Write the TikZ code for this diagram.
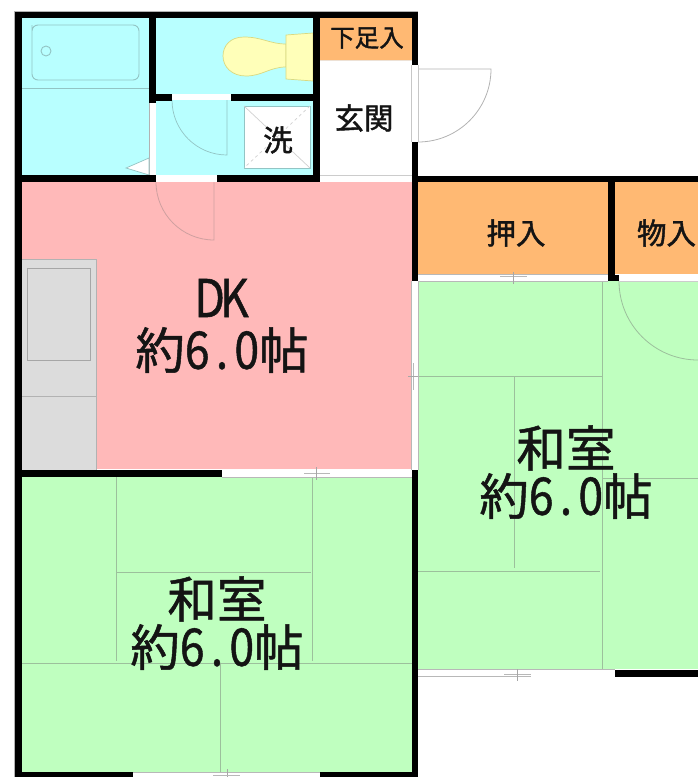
\documentclass[tikz,border=0pt]{standalone}
\usepackage{graphicx}
\usepackage{fontspec}
\newfontfamily\jpfont[FakeBold=1.0]{Noto Sans CJK JP}
\newfontfamily\jpmid[FakeBold=1.5]{Noto Sans CJK JP}
\definecolor{wetc}{HTML}{B8FFFF}
\definecolor{dkc}{HTML}{FFB9B9}
\definecolor{tatami}{HTML}{BFFFBF}
\definecolor{closet}{HTML}{FFB973}
\definecolor{toiletc}{HTML}{FFFFB9}
\definecolor{kitchen}{HTML}{DCDCDC}
\definecolor{wetline}{HTML}{93C4C4}
\definecolor{tatline}{HTML}{9CC09C}
\definecolor{dkline}{HTML}{CFA0A0}
\newcommand{\hw}[1]{\makebox[0.5em][c]{\scalebox{0.9}[1.05]{#1}}}
\newcommand{\jsize}[1]{\fontsize{#1}{#1}\selectfont}
\tikzset{
  wall/.style={fill=black,draw=none},
  room/.style={draw=none},
  wetl/.style={draw=wetline,line width=0.9pt},
  tatl/.style={draw=tatline,line width=1pt},
  sash/.style={draw=black!28,line width=0.9pt},
  big/.style={inner sep=0pt,font=\jpfont\jsize{49.5},text=black!92},
  mid/.style={inner sep=0pt,font=\jpmid\jsize{29.5},text=black!92},
}
\begin{document}
\begin{tikzpicture}[x=1pt,y=-1pt]
\useasboundingbox (0,0) rectangle (698,777);
% room fills
\fill[wetc] (22,18) rectangle (313,175);
\fill[closet] (320,18) rectangle (411.5,60);
\fill[dkc] (22,182) rectangle (411.5,469);
\fill[closet] (418,182) rectangle (698,274);
\fill[tatami] (418,281) rectangle (698,669);
\fill[tatami] (22,477) rectangle (411.5,772);
\fill[kitchen] (22,259) rectangle (96,470);
% kitchen
\draw[black!30,line width=0.8pt] (22,259) -- (96,259) -- (96,470);
\draw[black!35,line width=0.8pt] (27,268) rectangle (90,360);
\draw[black!30,line width=0.8pt] (22,396) -- (96,396);
% bath
\draw[wetl] (32,31) [rounded corners=6pt] -- (32,80) -- (139,80) -- (139,25) -- (32,25) -- cycle;
\draw[wetl] (46,51) circle (5);
\draw[wetl] (22,88) -- (149,88);
% toilet
\draw[draw=toiletc!70!olive,fill=toiletc,line width=0.7pt] (286,44) .. controls (270,44) and (262,37) .. (244,37) .. controls (230,37) and (223,46) .. (223,56) .. controls (223,67) and (232,76) .. (246,76) .. controls (262,76) and (270,67) .. (286,67) -- cycle;
\draw[draw=toiletc!70!olive,fill=toiletc,line width=0.7pt] (313,33) -- (286,35) -- (286,79) -- (313,81) -- cycle;
% washer
\fill[white] (244,106) rectangle (310,168);
\draw[wetl] (244,106) rectangle (310,168);
\draw[black!18,line width=0.7pt] (244,106) -- (310,168);
\draw[black!18,line width=0.7pt,dashed] (310,106) -- (244,168);
% wall openings
\fill[white] (149,103) rectangle (156,175);
\draw[black!30,line width=0.6pt] (149,103) -- (149,175);
\fill[white] (172,94) rectangle (231,100);
\fill[white] (156,175) rectangle (217,182);
\fill[white] (320,175) rectangle (411.5,182);
\draw[black!20,line width=0.7pt] (320,175) -- (411.5,175);
\draw[closet!70!black!60,line width=0.4pt,opacity=0.4] (320,60) -- (411.5,60);
% bathroom door triangle
\draw[draw=wetline,fill=white,line width=0.7pt] (149,158) -- (126,168) -- (149,175) -- cycle;
% doors
\draw[wetl,line width=0.7pt] (172,100) arc[start angle=180,end angle=270,x radius=55,y radius=-55] -- (227,100);
\draw[dkline,line width=0.8pt] (156,182) arc[start angle=180,end angle=270,x radius=58,y radius=-58] -- (214,182);
\draw[black!30,line width=0.8pt] (418,69) -- (491,69) arc[start angle=0,end angle=-90,x radius=73,y radius=-73];
\draw[black!22,line width=0.7pt] (411.500,65) -- (411.500,142);
\draw[black!22,line width=0.7pt] (418.500,65) -- (418.500,142);
\draw[tatline,line width=0.8pt] (619,281) arc[start angle=180,end angle=270,x radius=79,y radius=-79];
% tatami lines: right room
\draw[tatl] (418,376) -- (602,376);
\draw[tatl] (602,281) -- (602,669);
\draw[tatl] (514,376) -- (514,568);
\draw[tatl] (418,571) -- (600,571);
\draw[tatl] (602,478) -- (698,478);
% tatami lines: lower room
\draw[tatl] (116.500,477) -- (116.500,661);
\draw[tatl] (312.500,477) -- (312.500,661);
\draw[tatl] (117,572) -- (311,572);
\draw[tatl] (22,663.500) -- (411.500,663.500);
\draw[tatl] (220,663.500) -- (220,772);
% sashes
\fill[white] (418,274) rectangle (608,281);
\draw[sash] (418,274.500) -- (608,274.500);
\draw[sash] (418,281) -- (608,281);
\draw[sash] (500,276.500) -- (527,276.500);
\draw[black!35,line width=0.7pt] (513.500,272) -- (513.500,284);
\fill[white] (619,274) rectangle (698,281);
\draw[sash,draw=black!20] (619,281) -- (698,281);
\fill[white] (411.5,281) rectangle (418,470);
\draw[sash] (418,281) -- (418,470);
\draw[sash] (411.500,281) -- (411.500,470);
\draw[sash] (413.500,363) -- (413.500,390);
\draw[black!35,line width=0.7pt] (408,376) -- (418,376);
\fill[white] (222,470) rectangle (411.5,477);
\draw[sash] (222,477) -- (411.5,477);
\draw[sash] (304,473.500) -- (330,473.500);
\draw[black!35,line width=0.7pt] (316.500,467) -- (316.500,480);
\fill[white] (418,669) rectangle (615,677);
\draw[sash] (418,669.500) -- (615,669.500);
\draw[sash] (418,676.500) -- (531,676.500);
\draw[sash] (504,674) -- (531,674);
\draw[black!35,line width=0.7pt] (517,669) -- (517,681);
\fill[white] (133,772) rectangle (320,777);
\draw[sash] (133,772.500) -- (320,772.500);
\draw[black!35,line width=0.7pt] (227,769) -- (227,777);
\draw[sash] (213,775) -- (240,775);
% outer hairline
\draw[black!30,line width=0.8pt] (14.500,777) -- (14.500,11.500) -- (418,11.500);
% walls
\fill[wall] (15,12) rectangle (418,18);
\fill[wall] (15,12) rectangle (21.7,777);
\fill[wall] (149,12) rectangle (156,103);
\fill[wall] (149,94) rectangle (172,100.500);
\fill[wall] (231,94) rectangle (320,100.500);
\fill[wall] (313,12) rectangle (320,182);
\fill[wall] (15,175) rectangle (156,182);
\fill[wall] (217,175) rectangle (320,182);
\fill[wall] (411.7,12) rectangle (418.3,65);
\fill[wall] (411.7,142) rectangle (418.3,281);
\fill[wall] (418,175.500) rectangle (698,182);
\fill[wall] (608,175.500) rectangle (615,281);
\fill[wall] (608,274.500) rectangle (619,281);
\fill[wall] (15,470) rectangle (222,477);
\fill[wall] (411.7,470) rectangle (418.3,777);
\fill[wall] (15,772) rectangle (133,777);
\fill[wall] (320,772) rectangle (418,777);
\fill[wall] (615,670) rectangle (698,677);
% labels
\node[big] (dk) at (222,298) {\hw{D}\hw{K}};
\node[big] (dkarea) at (222,350) {約\hw{6}\hw{.}\hw{0}帖};
\node[big] (lowname) at (217,599) {和室};
\node[big] (lowarea) at (217,647) {約\hw{6}\hw{.}\hw{0}帖};
\node[big] (rightname) at (566,448) {和室};
\node[big] (rightarea) at (566,496) {約\hw{6}\hw{.}\hw{0}帖};
\node[inner sep=0pt,font=\jpmid\jsize{24.5},text=black!92] (shoes) at (367,38) {下足入};
\node[mid] (genkan) at (364,118) {玄関};
\node[mid] (wash) at (278,140) {洗};
\node[mid] (oshi) at (516,233) {押入};
\node[mid] (mono) at (666.500,233) {物入};
\end{tikzpicture}
\end{document}
